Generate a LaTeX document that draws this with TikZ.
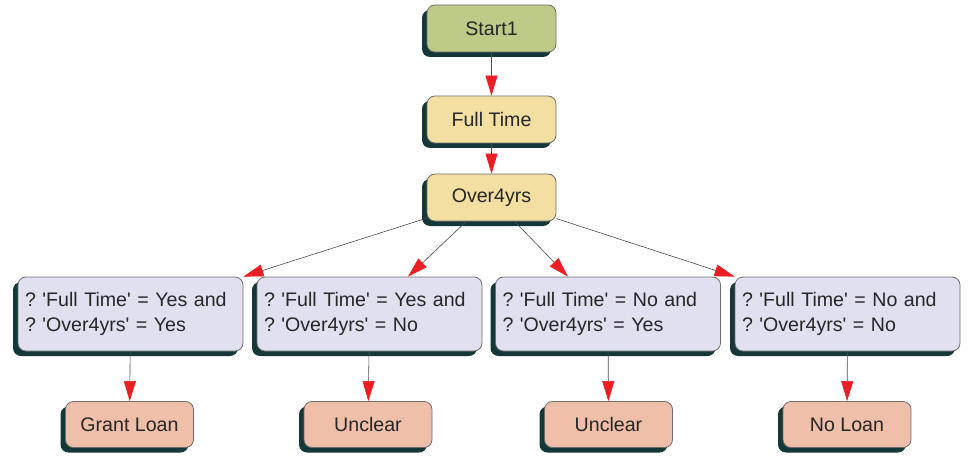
\documentclass[tikz,border=0pt]{standalone}
\usepackage{fontspec}
\setmainfont{Liberation Sans}
\usetikzlibrary{positioning,shadows,arrows.meta}
\frenchspacing

\definecolor{startgreen}{RGB}{190,203,136}
\definecolor{testyellow}{RGB}{243,223,162}
\definecolor{rulelavender}{RGB}{224,224,240}
\definecolor{outcomesalmon}{RGB}{239,191,169}
\definecolor{shadowteal}{RGB}{20,56,56}
\definecolor{boxborder}{RGB}{110,110,110}
\definecolor{arrowred}{RGB}{235,30,35}

\newcommand{\sq}{\textquotesingle}

\tikzstyle{basebox} = [rectangle, rounded corners=8pt, draw=boxborder, line width=0.8pt, text=black!85, font=\fontsize{19.6pt}{25pt}\selectfont, drop shadow={shadow xshift=-5pt, shadow yshift=-5pt, fill=shadowteal, opacity=1}]
\tikzstyle{startbox} = [basebox, minimum width=129pt, minimum height=47pt, text centered, fill=startgreen]
\tikzstyle{testbox} = [basebox, minimum width=129pt, minimum height=47pt, text centered, fill=testyellow]
\tikzstyle{rulebox} = [basebox, minimum width=225pt, minimum height=74pt, text width=211pt, inner xsep=7pt, align=left, fill=rulelavender]
\tikzstyle{outcomebox} = [basebox, minimum width=128pt, minimum height=46pt, text centered, fill=outcomesalmon]
\tikzstyle{arrow} = [line width=0.6pt, draw=black!70, -{Triangle[length=20pt,width=12pt,color=arrowred]}]

\begin{document}
\begin{tikzpicture}[x=1pt, y=-1pt, node distance = 80pt, auto]
	\useasboundingbox (0,0) rectangle (968,457);
	% Place nodes
	\node [startbox] (Start1) at (491.5,28.5) {Start1};
	\node [testbox, below of=Start1, yshift = -11pt] (FullTime) {Full Time};
	\node [testbox, below of=FullTime, yshift = 2pt] (Over4yrs) {Over4yrs};
	\node [rulebox, below of=Over4yrs, xshift = -122pt, yshift = -36.5pt] (RuleYesNo) {? \sq Full Time\sq{} = Yes and\\? \sq Over4yrs\sq{} = No};
	\node [rulebox, left of=RuleYesNo, xshift = -159pt] (RuleYesYes) {? \sq Full Time\sq{} = Yes and\\? \sq Over4yrs\sq{} = Yes};
	\node [rulebox, right of=RuleYesNo, xshift = 158.5pt] (RuleNoYes) {? \sq Full Time\sq{} = No and\\? \sq Over4yrs\sq{} = Yes};
	\node [rulebox, right of=RuleNoYes, xshift = 159.5pt] (RuleNoNo) {? \sq Full Time\sq{} = No and\\? \sq Over4yrs\sq{} = No};
	\node [outcomebox, below of=RuleYesYes, xshift = -1pt, yshift = -30.5pt] (GrantLoan) {Grant Loan};
	\node [outcomebox, below of=RuleYesNo, xshift = -1.5pt, yshift = -30.5pt] (UnclearA) {Unclear};
	\node [outcomebox, below of=RuleNoYes, xshift = 0.5pt, yshift = -30.5pt] (UnclearB) {Unclear};
	\node [outcomebox, below of=RuleNoNo, xshift = -0.5pt, yshift = -30.5pt] (NoLoan) {No Loan};
	% Draw edges
	\draw [arrow] (Start1) -- (FullTime);
	\draw [arrow] (FullTime) -- (Over4yrs);
	\draw [arrow] (Over4yrs) -- (RuleYesYes.north east);
	\draw [arrow] (Over4yrs) -- ([xshift=38.5pt]RuleYesNo.north);
	\draw [arrow] (Over4yrs) -- ([xshift=-40pt]RuleNoYes.north);
	\draw [arrow] (Over4yrs) -- (RuleNoNo.north west);
	\draw [arrow] (RuleYesYes) -- (GrantLoan);
	\draw [arrow] (RuleYesNo) -- (UnclearA);
	\draw [arrow] (RuleNoYes) -- (UnclearB);
	\draw [arrow] (RuleNoNo) -- (NoLoan);
\end{tikzpicture}
\end{document}
